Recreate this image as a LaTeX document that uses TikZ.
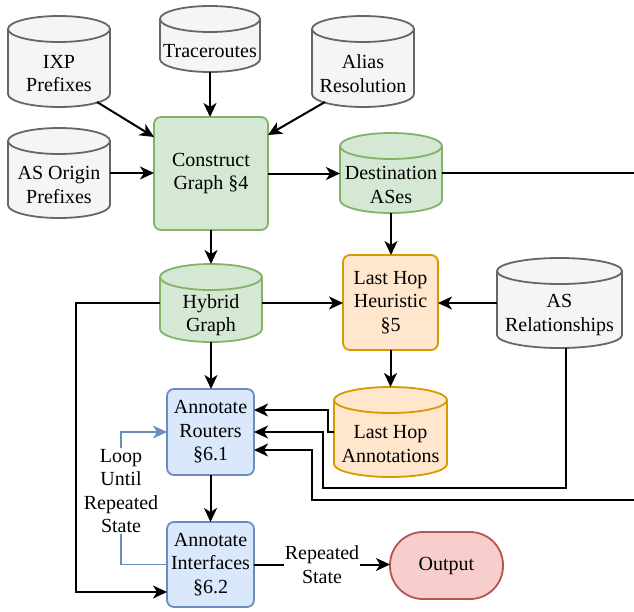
\documentclass[tikz,border=0pt]{standalone}
\usepackage{fontspec}
\setmainfont{Liberation Serif}
\newfontfamily\diagfont{Liberation Serif}
\usetikzlibrary{arrows.meta,calc}

\definecolor{grayline}{HTML}{666666}
\definecolor{grayfill}{HTML}{F5F5F5}
\definecolor{greenline}{HTML}{82B366}
\definecolor{greenfill}{HTML}{D5E8D4}
\definecolor{orline}{HTML}{D79B00}
\definecolor{orfill}{HTML}{FFE6CC}
\definecolor{blline}{HTML}{6C8EBF}
\definecolor{blfill}{HTML}{DAE8FC}
\definecolor{redline}{HTML}{B85450}
\definecolor{redfill}{HTML}{F8CECC}

\tikzset{
  txt/.style={align=center, inner sep=0pt},
  anchorbox/.style={inner sep=0pt, outer sep=0pt, draw=none, fill=none},
  shapeline/.style={line width=1.8pt},
  graydb/.style={draw=grayline, fill=grayfill},
  greendb/.style={draw=greenline, fill=greenfill},
  orangedb/.style={draw=orline, fill=orfill},
  procbox/.style={shapeline, rounded corners=7pt, align=center, inner sep=0pt, outer sep=0pt},
  greenbox/.style={procbox, draw=greenline, fill=greenfill},
  orangebox/.style={procbox, draw=orline, fill=orfill},
  bluebox/.style={procbox, draw=blline, fill=blfill},
  endbox/.style={procbox, rounded corners=33pt, draw=redline, fill=redfill},
  conn/.style={line width=2pt, -{Stealth[length=14pt,width=13pt,inset=4pt]}},
  plainconn/.style={line width=2pt},
  loopconn/.style={line width=1.8pt, draw=blline, -{Stealth[length=14pt,width=13pt,inset=4pt]}},
  edgelabel/.style={fill=white, align=center, inner sep=1pt},
}

% Database drum: name, colour style, left, right, top, bottom, text
\newcommand{\drum}[7]{%
  \pgfmathsetmacro{\drumrx}{(#4-#3)/2}%
  \pgfmathsetmacro{\drumw}{#4-#3}%
  \pgfmathsetmacro{\drumh}{#6-#5}%
  \draw[shapeline,#2] (#3,#5+13)
    arc[start angle=180,end angle=360,x radius=\drumrx,y radius=13]
    -- (#4,#6-13)
    arc[start angle=0,end angle=180,x radius=\drumrx,y radius=13] -- cycle;
  \draw[shapeline,#2,fill=none] (#3,#5+13)
    arc[start angle=180,end angle=0,x radius=\drumrx,y radius=13];
  \node[anchorbox, minimum width=\drumw pt, minimum height=\drumh pt]
    (#1) at ({(#3+#4)/2},{(#5+#6)/2}) {};
  \node[txt] (#1-text) at ({(#3+#4)/2},{(#5+#6)/2+12}) {#7};
}

\begin{document}
\begin{tikzpicture}[x=1pt, y=-1pt, every node/.style={font=\diagfont\fontsize{20}{23.5}\selectfont}]
\fill[white] (0,0) rectangle (634,611);
\useasboundingbox (0,0) rectangle (634,611);

% data sources
\drum{ixp}{graydb}{8}{110}{16}{107}{IXP\\Prefixes}
\drum{trace}{graydb}{160}{260}{6}{72}{Traceroutes}
\drum{alias}{graydb}{312}{414}{16}{107}{Alias\\Resolution}
\drum{asorigin}{graydb}{8}{110}{128}{218}{AS Origin\\Prefixes}
\drum{asrel}{graydb}{497}{622}{258}{348}{AS\\Relationships}

% intermediate data
\drum{dest}{greendb}{340}{442}{133}{213}{Destination\\ASes}
\drum{hybrid}{greendb}{160}{262}{264}{342}{Hybrid\\Graph}
\drum{lha}{orangedb}{334}{447}{387}{477}{Last Hop\\Annotations}

% processing steps
\node[greenbox, minimum width=114pt, minimum height=113pt] (cg) at (211,173.5) {Construct\\Graph §4};
\node[orangebox, minimum width=95pt, minimum height=95pt] (lhh) at (390.5,302.5) {Last Hop\\Heuristic\\§5};
\node[bluebox, minimum width=87pt, minimum height=86pt] (ar) at (210.5,432) {Annotate\\Routers\\§6.1};
\node[bluebox, minimum width=87pt, minimum height=85pt] (ai) at (210.5,564.5) {Annotate\\Interfaces\\§6.2};
\node[endbox, minimum width=113pt, minimum height=67pt] (out) at (446.5,565.5) {Output};

% connectors leaving the right edge
\coordinate (offA) at (634,173);
\coordinate (offB) at (634,500);

% inputs to graph construction
\draw[conn] (trace.south) -- (trace.south |- cg.north);
\draw[conn] ($(ixp.south east)+(-13,-5)$) -- ($(cg.north west)+(0,20)$);
\draw[conn] ($(alias.south west)+(13,-5)$) -- ($(cg.north east)+(0,18)$);
\draw[conn] (asorigin.east) -- (asorigin.east -| cg.west);

% graph construction outputs
\draw[conn] (cg.east) -- (cg.east -| dest.west);
\draw[plainconn] (dest.east) -- (offA);
\draw[conn] (cg.south) -- (cg.south |- hybrid.north);

% last hop heuristic
\draw[conn] (dest.south) -- (dest.south |- lhh.north);
\draw[conn] (hybrid.east) -- (hybrid.east -| lhh.west);
\draw[conn] (asrel.west) -- (asrel.west -| lhh.east);
\draw[conn] (lhh.south) -- (lhh.south |- lha.north);

% inputs to router annotation
\draw[conn] (hybrid.south) -- (hybrid.south |- ar.north);
\draw[conn] (lha.west) -- ++(-6,0) |- ($(ar.east)+(0,-22)$);
\draw[conn] ($(asrel.south)+(6,0)$) -- ++(0,140) -| ($(lha.west)+(-11,0)$) -- (ar.east);
\draw[conn] (offB) -| ($(ar.east)+(58,18)$) -- ($(ar.east)+(0,18)$);

% hybrid graph to interface annotation
\draw[conn] (hybrid.west) -- ++(-84,0) |- ($(ai.south west)+(0,-15)$);

% annotation loop
\draw[conn] (ar.south) -- (ar.south |- ai.north);
\draw[loopconn] (ai.west) -- ++(-46,0) |- node[edgelabel, pos=0.277] (looplabel) {Loop\\Until\\Repeated\\State} (ar.west);
\draw[conn] (ai.east) -- node[edgelabel, pos=0.5] (replabel) {Repeated\\State} (ai.east -| out.west);
\end{tikzpicture}
\end{document}
